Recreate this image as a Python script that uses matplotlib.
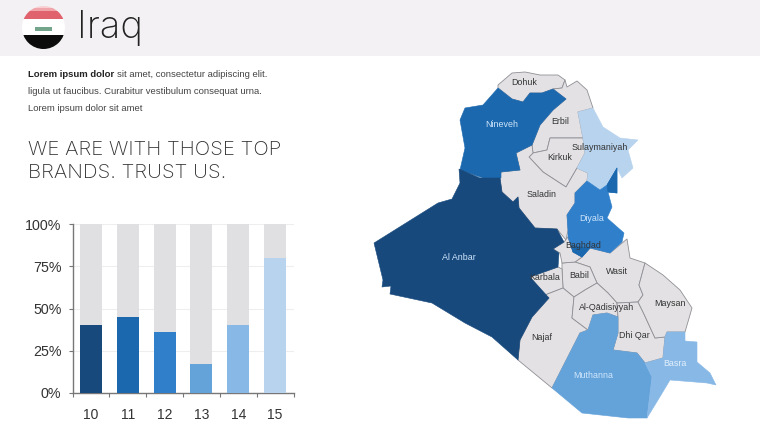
import numpy as np
import matplotlib
matplotlib.use('Agg')
import matplotlib.pyplot as plt
from matplotlib.patches import Polygon, Circle, Rectangle

plt.rcParams['font.family'] = ['Liberation Sans', 'DejaVu Sans']

# datos de las barras
categorias = ['10', '11', '12', '13', '14', '15']
valores = [40, 45, 36, 17, 40, 80]
resto = [100 - v for v in valores]
colores = ['#17497d', '#1c68ae', '#2f7fcb', '#64a2da', '#88b8e6', '#b7d3ee']
etiquetas_y = ['0%', '25%', '50%', '75%', '100%']

GRIS = '#e3e1e4'
# contornos de las provincias, en pixeles de la imagen
anbar = [(459, 169), (480, 178), (500, 178), (502, 192), (513, 202), (518, 197), (519, 208), (535, 228),
         (557, 229), (564, 242), (553, 249), (559, 253), (558, 267), (530, 277), (549, 298), (532, 317),
         (520, 340), (518, 360), (492, 337), (465, 323), (432, 303), (390, 294), (391, 286), (382, 287),
         (383, 280), (374, 243), (438, 203), (452, 199), (460, 183)]
nineveh = [(498, 88), (512, 99), (523, 102), (530, 93), (542, 93), (553, 89), (566, 99), (553, 110), (540, 125),
           (532, 145), (516, 153), (520, 170), (501, 172), (501, 178), (483, 178), (460, 170), (465, 148),
           (460, 120), (465, 108), (483, 105)]
dohuk = [(498, 85), (512, 73), (525, 72), (540, 75), (558, 75), (565, 80), (562, 88), (553, 89), (542, 93),
         (530, 93), (523, 102), (512, 99), (498, 88)]
erbil = [(565, 80), (567, 87), (577, 81), (587, 90), (593, 108), (578, 112), (583, 138), (550, 138), (547, 150),
         (533, 153), (532, 145), (540, 125), (553, 110), (566, 99), (553, 89), (562, 88)]
sulaymaniyah = [(578, 112), (593, 108), (603, 127), (620, 138), (638, 140), (628, 150), (633, 168), (622, 178),
                (617, 168), (607, 185), (600, 190), (587, 181), (588, 173), (577, 168), (585, 153), (583, 138)]
kirkuk = [(550, 138), (583, 138), (585, 153), (577, 168), (566, 187), (543, 172), (529, 157), (533, 153), (547, 150)]
saladin = [(516, 153), (532, 145), (533, 153), (529, 157), (543, 172), (566, 187), (577, 168), (588, 173), (587, 181),
           (575, 193), (575, 203), (567, 215), (568, 230), (566, 240), (557, 229), (535, 228), (519, 208), (518, 197),
           (513, 202), (502, 192), (500, 178), (501, 172), (520, 170)]
diyala = [(587, 181), (600, 190), (607, 185), (617, 168), (617, 193), (608, 192), (612, 207), (607, 218), (624, 233),
          (622, 242), (610, 253), (590, 248), (582, 257), (573, 252), (568, 237), (568, 230), (567, 215), (575, 203),
          (575, 193)]
diyala_norte = [(607, 185), (617, 168), (617, 193), (608, 192)]
diyala_sur = [(590, 248), (582, 257), (573, 252), (571, 246)]
baghdad = [(553, 249), (564, 242), (568, 237), (573, 252), (582, 257), (575, 262), (562, 263), (560, 253)]
wasit = [(582, 257), (590, 248), (610, 253), (627, 239), (630, 258), (645, 263), (639, 285), (643, 295), (638, 302),
         (617, 303), (608, 293), (597, 283), (590, 267), (575, 262)]
babil = [(575, 262), (590, 267), (597, 283), (585, 290), (574, 297), (563, 288), (562, 269), (562, 263)]
karbala = [(562, 269), (563, 288), (545, 295), (530, 277), (558, 267)]
najaf = [(563, 288), (574, 297), (572, 318), (588, 330), (580, 333), (552, 388), (518, 360), (520, 340), (532, 317),
         (549, 298), (545, 295)]
qadisiyyah = [(574, 297), (585, 290), (597, 283), (608, 293), (617, 303), (618, 317), (607, 313), (593, 315), (588, 330),
              (572, 318)]
dhi_qar = [(617, 303), (638, 302), (643, 312), (655, 338), (665, 337), (663, 358), (645, 363), (637, 353), (613, 350),
           (618, 333), (618, 317)]
maysan = [(645, 263), (663, 275), (680, 290), (692, 308), (685, 332), (667, 332), (665, 337), (655, 338), (643, 312),
          (638, 302), (643, 295), (639, 285)]
muthanna = [(593, 315), (607, 313), (618, 317), (618, 333), (613, 350), (637, 353), (645, 363), (652, 377), (647, 418),
            (628, 418), (582, 413), (552, 388), (580, 333), (588, 330)]
basra = [(665, 337), (667, 332), (685, 332), (685, 341), (697, 342), (697, 362), (710, 373), (716, 385), (707, 383),
         (695, 382), (670, 380), (658, 400), (647, 418), (652, 377), (645, 363), (663, 358)]

grises = [dohuk, erbil, kirkuk, saladin, wasit, babil, karbala, najaf, qadisiyyah, dhi_qar, maysan, baghdad]
azules = [(sulaymaniyah, '#b7d3ee'), (nineveh, '#1c68ae'), (anbar, '#17497d'), (diyala, '#2f7fcb'),
          (diyala_norte, '#1c68ae'), (diyala_sur, '#1c68ae'), (muthanna, '#64a2da'), (basra, '#88b8e6')]
nombres = [
    ('Dohuk', 524, 82, '#333333'), ('Nineveh', 502, 124, '#cfe6fb'), ('Erbil', 560, 121, '#333333'),
    ('Sulaymaniyah', 600, 147, '#333333'), ('Kirkuk', 560, 157, '#333333'), ('Saladin', 542, 194, '#333333'),
    ('Diyala', 592, 218, '#cfe6fb'), ('Baghdad', 583, 245, '#333333'), ('Al Anbar', 459, 257, '#cfe6fb'),
    ('Karbala', 545, 277, '#333333'), ('Babil', 579, 275, '#333333'), ('Wasit', 617, 271, '#333333'),
    ('Al-Qādisiyyah', 607, 307, '#333333'), ('Maysan', 670, 304, '#333333'), ('Dhi Qar', 634, 335, '#333333'),
    ('Najaf', 542, 337, '#333333'), ('Muthanna', 593, 376, '#cfe6fb'), ('Basra', 675, 364, '#e2f0fc'),
]

fig = plt.figure(figsize=(7.6, 4.28), dpi=100)

# lienzo en pixeles
bg = fig.add_axes([0, 0, 1, 1])
bg.set_xlim(0, 760)
bg.set_ylim(428, 0)
bg.axis('off')

bg.add_patch(Rectangle((0, 0), 760, 56, fc='#f3f1f3', ec='none'))

# bandera
circulo = Circle((43.5, 27.5), 21.5, transform=bg.transData)
for y0, alto, c in [(5, 3, '#f8d0d2'), (8, 3, '#f0a5aa'), (11, 8, '#e0626c'), (19, 16, '#ffffff'), (35, 15, '#0c0c0c')]:
    r = bg.add_patch(Rectangle((20, y0), 50, alto, fc=c, ec='none'))
    r.set_clip_path(circulo)
bg.add_patch(Rectangle((35, 27), 17, 4, fc='#4f8f70', ec='none', alpha=0.8))

bg.text(77, 28, 'Iraq', fontsize=27.5, family='Inter', weight='light', color='#222222', va='center')

bg.text(28, 74, 'Lorem ipsum dolor', fontsize=6.8, weight='bold', color='#222222', va='center')
bg.text(117, 74, 'sit amet, consectetur adipiscing elit.', fontsize=6.8, color='#444444', va='center')
bg.text(28, 91, 'ligula ut faucibus. Curabitur vestibulum consequat urna.', fontsize=6.8, color='#444444', va='center')
bg.text(28, 108, 'Lorem ipsum dolor sit amet', fontsize=6.8, color='#444444', va='center')
bg.text(28, 150, 'WE ARE WITH THOSE TOP', fontsize=14.7, family='Inter', weight='light', color='#333333', va='center')
bg.text(28, 173, 'BRANDS. TRUST US.', fontsize=14.7, family='Inter', weight='light', color='#333333', va='center')

# mapa
for contorno in grises:
    bg.add_patch(Polygon(contorno, closed=True, fc=GRIS, ec='#8f8f95', lw=0.6, joinstyle='round'))
for contorno, color in azules:
    bg.add_patch(Polygon(contorno, closed=True, fc=color, ec=color, lw=0.4, joinstyle='round'))
for nombre, x, y, color in nombres:
    bg.text(x, y, nombre, fontsize=6.4, color=color, ha='center', va='center')

# grafica de barras
ax = fig.add_axes([72.5 / 760, 1 - 393 / 428, 221 / 760, 169 / 428])
ax.patch.set_alpha(0)
x = np.arange(len(categorias)) + 0.5
ax.bar(x, resto, 0.6, bottom=valores, color='#e0dfe1', zorder=2)
ax.bar(x, valores, 0.6, color=colores, zorder=3)

ax.set_xlim(0, 6)
ax.set_ylim(0, 100)
ax.set_yticks([0, 25, 50, 75, 100])
ax.set_yticklabels(etiquetas_y, fontsize=10.3, color='#333333')
ax.set_xticks(np.arange(7))
ax.set_xticklabels([])
ax.set_xticks(x, minor=True)
ax.set_xticklabels(categorias, minor=True, fontsize=10, color='#333333')
ax.tick_params(axis='x', which='minor', length=0, pad=11)
ax.tick_params(axis='x', which='major', length=3, color='#777777', width=0.8)
ax.tick_params(axis='y', length=3, color='#777777', width=0.8, pad=5)
ax.grid(axis='y', color='#eeeeee', lw=0.8, zorder=0)
for lado in ['top', 'right']:
    ax.spines[lado].set_visible(False)
for lado in ['left', 'bottom']:
    ax.spines[lado].set_color('#777777')
    ax.spines[lado].set_linewidth(1.0)

fig.savefig('out.png', dpi=100)
